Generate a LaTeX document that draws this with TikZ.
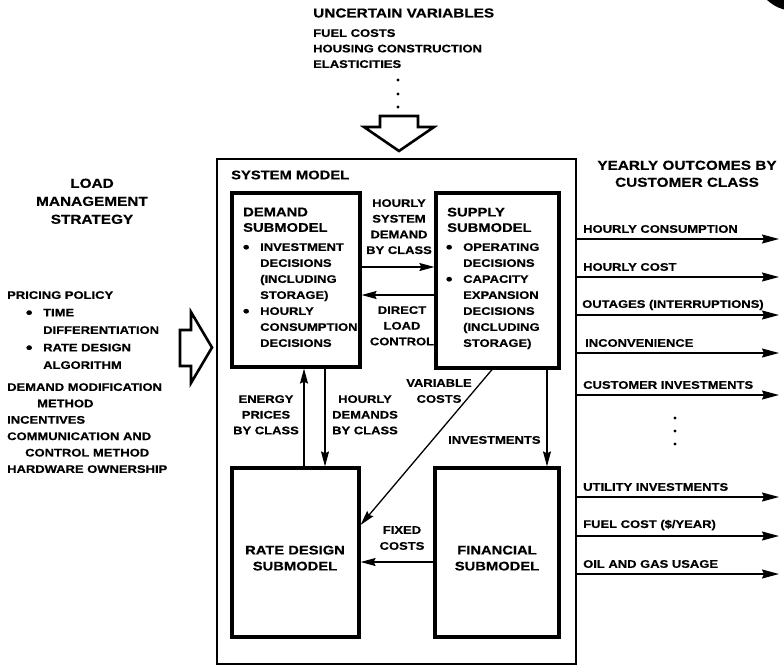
\documentclass[tikz,border=0pt]{standalone}
\usepackage{fontspec}
\setmainfont{Liberation Sans}[FakeStretch=1.18, BoldFeatures={FakeBold=0.5}]
\usetikzlibrary{arrows.meta}
% a round list bullet hung to the left of the item text
\newcommand{\itemdot}{\llap{\raisebox{-1.6pt}{\fontsize{16}{16}\selectfont\textbullet}\hspace{10.7pt}}}
\begin{document}
\begin{tikzpicture}[x=1pt,y=-1pt,
  txt/.style={inner sep=0pt, font=\bfseries\fontsize{11}{15.7}\selectfont},
  head/.style={inner sep=0pt, font=\bfseries\fontsize{13}{17.5}\selectfont},
  subhead/.style={inner sep=0pt, font=\bfseries\fontsize{12.5}{15.5}\selectfont},
  subbox/.style={draw, line width=3.2pt, inner sep=0pt},
  sysbox/.style={draw, line width=2.6pt, inner sep=0pt},
  flow/.style={line width=1.3pt, -{Stealth[length=15pt,width=8pt,inset=2pt]}},
  outflow/.style={line width=1.4pt, -{Stealth[length=17pt,width=9pt,inset=2pt]}},
  hollow/.style={draw, line width=2.6pt, fill=white, line join=miter}]
\useasboundingbox (0,0) rectangle (784,667);

% corner mark
\fill (795,-30) circle[radius=41pt];

% ---------- uncertain variables ----------
\node[head, anchor=west] (uv) at (313,13) {UNCERTAIN VARIABLES};
\node[txt, font=\bfseries\fontsize{11}{15.5}\selectfont, anchor=north west, align=left] (uvlist) at (313,29)
  {FUEL COSTS\\HOUSING CONSTRUCTION\\ELASTICITIES};
\foreach \yy in {80,94,107} \fill (398,\yy) circle[radius=1.6pt];
\draw[hollow] (380,116) -- (418,116) -- (418,127) -- (434,127) -- (399,151)
  -- (364,127) -- (380,127) -- cycle;

% ---------- system model ----------
\node[sysbox, minimum width=359pt, minimum height=505pt] (sys) at (396.5,411.5) {};
\node[subhead, anchor=west] (systitle) at (231,175) {SYSTEM MODEL};

\node[subbox, minimum width=128pt, minimum height=174pt] (demand) at (296,280) {};
\node[subbox, minimum width=123pt, minimum height=175pt] (supply) at (497.5,280.5) {};
\node[subbox, minimum width=127pt, minimum height=169pt] (rate) at (295.5,552.5) {};
\node[subbox, minimum width=124pt, minimum height=169pt] (fin) at (497,552.5) {};

\node[subhead, anchor=north west, align=left] (dmhead) at (243,207.5) {DEMAND\\SUBMODEL};
\node[txt, font=\bfseries\fontsize{11}{16}\selectfont, anchor=north west, align=left] (dmlist) at (260,243)
  {\itemdot INVESTMENT\\DECISIONS\\(INCLUDING\\STORAGE)\\\itemdot HOURLY\\CONSUMPTION\\DECISIONS};

\node[subhead, anchor=north west, align=left] (sphead) at (447,207.5) {SUPPLY\\SUBMODEL};
\node[txt, font=\bfseries\fontsize{11}{16}\selectfont, anchor=north west, align=left] (splist) at (463,243)
  {\itemdot OPERATING\\DECISIONS\\\itemdot CAPACITY\\EXPANSION\\DECISIONS\\(INCLUDING\\STORAGE)};

\node[subhead, font=\bfseries\fontsize{12.5}{16}\selectfont, anchor=north, align=center] (ratetxt) at (295,545.5) {RATE DESIGN\\SUBMODEL};
\node[subhead, font=\bfseries\fontsize{12.5}{16}\selectfont, anchor=north, align=center] (fintxt) at (497,545.5) {FINANCIAL\\SUBMODEL};

% connector positions
\coordinate (ya) at (0,267);
\coordinate (yb) at (0,295);
\coordinate (xa) at (304,0);
\coordinate (xb) at (325,0);
\coordinate (xc) at (492,0);
\coordinate (yc) at (0,525);
\coordinate (xd) at (547,0);
\coordinate (ye) at (0,562);

\draw[flow] (demand.east |- ya) -- (supply.west |- ya);
\draw[flow] (supply.west |- yb) -- (demand.east |- yb);
\draw[flow] (rate.north -| xa) -- (demand.south -| xa);
\draw[flow] (demand.south -| xb) -- (rate.north -| xb);
\draw[flow] (supply.south -| xc) -- (rate.east |- yc);
\draw[flow] (supply.south -| xd) -- (fin.north -| xd);
\draw[flow] (fin.west |- ye) -- (rate.east |- ye);

\node[txt, anchor=north, align=center] (hsd) at (399,199) {HOURLY\\SYSTEM\\DEMAND\\BY CLASS};
\node[txt, anchor=north, align=center] (dlc) at (402,306) {DIRECT\\LOAD\\CONTROL};
\node[txt, anchor=north, align=center] (epc) at (266,395) {ENERGY\\PRICES\\BY CLASS};
\node[txt, anchor=north, align=center] (hdc) at (365,395) {HOURLY\\DEMANDS\\BY CLASS};
\node[txt, font=\bfseries\fontsize{11}{16}\selectfont, anchor=north, align=center] (vc) at (439,379) {VARIABLE\\COSTS};
\node[txt, anchor=west] (inv) at (448,440) {INVESTMENTS};
\node[txt, font=\bfseries\fontsize{11}{16}\selectfont, anchor=north, align=center] (fc) at (402,526) {FIXED\\COSTS};

% ---------- load management strategy ----------
\node[head, font=\bfseries\fontsize{13}{18}\selectfont, anchor=north, align=center] (lms) at (92,178.5) {LOAD\\MANAGEMENT\\STRATEGY};
\node[txt, font=\bfseries\fontsize{11}{17.5}\selectfont, anchor=north west, align=left] (pricing) at (7,291)
  {PRICING POLICY\\
   \hspace*{36pt}\itemdot TIME\\
   \hspace*{36pt}DIFFERENTIATION\\
   \hspace*{36pt}\itemdot RATE DESIGN\\
   \hspace*{36pt}ALGORITHM};
\node[txt, font=\bfseries\fontsize{11}{16.4}\selectfont, anchor=north west, align=left] (methods) at (7,383)
  {DEMAND MODIFICATION\\
   \hspace*{30pt}METHOD\\
   INCENTIVES\\
   COMMUNICATION AND\\
   \hspace*{18pt}CONTROL METHOD\\
   HARDWARE OWNERSHIP};
\draw[hollow] (180,330) -- (191,330) -- (191,312) -- (212,347.5) -- (191,383)
  -- (191,366) -- (180,366) -- cycle;

% ---------- yearly outcomes ----------
\node[head, font=\bfseries\fontsize{13}{17}\selectfont, anchor=north, align=center] (yo) at (687,160.5)
  {YEARLY OUTCOMES BY\\CUSTOMER CLASS};

\coordinate (o1) at (779,239);
\coordinate (o2) at (779,277);
\coordinate (o3) at (779,315);
\coordinate (o4) at (779,353);
\coordinate (o5) at (779,395);
\coordinate (o6) at (779,497);
\coordinate (o7) at (779,536);
\coordinate (o8) at (779,574);
\foreach \o in {o1,o2,o3,o4,o5,o6,o7,o8}
  \draw[outflow] (sys.east |- \o) -- (\o);

\node[txt, anchor=west] (l1) at (583,229) {HOURLY CONSUMPTION};
\node[txt, anchor=west] (l2) at (583,267) {HOURLY COST};
\node[txt, anchor=west] (l3) at (582,305) {OUTAGES (INTERRUPTIONS)};
\node[txt, anchor=west] (l4) at (585,343) {INCONVENIENCE};
\node[txt, anchor=west] (l5) at (583,385) {CUSTOMER INVESTMENTS};
\foreach \yy in {418,431,444} \fill (675,\yy) circle[radius=1.6pt];
\node[txt, anchor=west] (l6) at (583,487) {UTILITY INVESTMENTS};
\node[txt, anchor=west] (l7) at (583,525) {FUEL COST (\$/YEAR)};
\node[txt, anchor=west] (l8) at (583,564) {OIL AND GAS USAGE};
\end{tikzpicture}
\end{document}
